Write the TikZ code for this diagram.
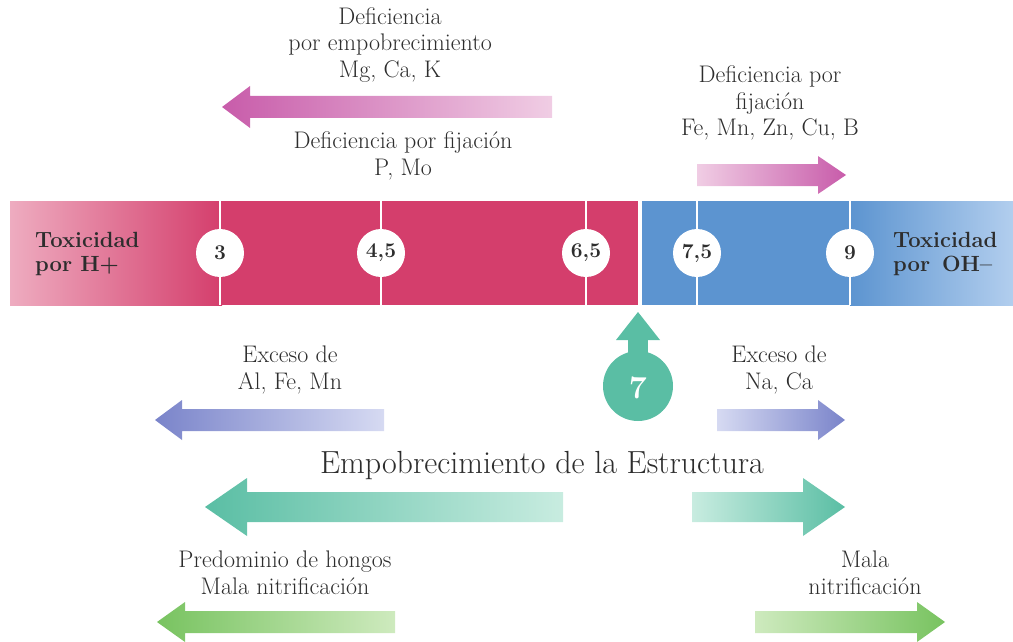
\documentclass[tikz,border=0pt]{standalone}
\usetikzlibrary{calc}
\definecolor{barpink}{RGB}{212,62,108}
\definecolor{barpinkl}{RGB}{238,172,192}
\definecolor{barblue}{RGB}{92,148,208}
\definecolor{barbluel}{RGB}{178,206,238}
\definecolor{mag}{RGB}{200,92,170}
\definecolor{magl}{RGB}{240,205,228}
\definecolor{vio}{RGB}{122,132,202}
\definecolor{viol}{RGB}{214,218,242}
\definecolor{teal7}{RGB}{90,190,164}
\definecolor{teall}{RGB}{200,236,224}
\definecolor{grn}{RGB}{120,195,96}
\definecolor{grnl}{RGB}{206,234,190}
\definecolor{txt}{RGB}{45,45,45}
% #1 tail x, #2 tip x, #3 y, #4 shaft half, #5 head half, #6 head length (signed), #7 shading
\newcommand\gradarrow[7]{%
  \shade[#7] (#1,#3-#4) -- ({#2-(#6)},#3-#4) -- ({#2-(#6)},#3-#5) -- (#2,#3)
    -- ({#2-(#6)},#3+#5) -- ({#2-(#6)},#3+#4) -- (#1,#3+#4) -- cycle;}
\begin{document}
\begin{tikzpicture}[x=1pt,y=-1pt,
  lbl/.style={text=txt,align=center,font=\fontsize{24}{26.5}\selectfont,inner sep=0pt},
  tox/.style={text=txt,align=left,font=\bfseries\fontsize{22}{23.5}\selectfont,inner sep=0pt,anchor=west},
  phnum/.style={circle,fill=white,minimum size=48pt,inner sep=0pt,text=txt,font=\bfseries\fontsize{21}{22}\selectfont},
  divider/.style={white,line width=2pt}]
\useasboundingbox (0,0) rectangle (1013,642);
% bar
\shade[left color=barpinkl,right color=barpink] (10,201) rectangle (222,305);
\fill[barpink] (221,201) rectangle (638,305);
\fill[barblue] (642,201) rectangle (851,305);
\shade[left color=barblue,right color=barbluel] (850,201) rectangle (1013,305);
\foreach \x in {220,381,586,697,850} \draw[divider] (\x,201) -- (\x,305);
\node[phnum] (p3) at (220,253) {3};
\node[phnum] (p45) at (381,253) {4,5};
\node[phnum] (p65) at (586,253) {6,5};
\node[phnum] (p75) at (697,253) {7,5};
\node[phnum] (p9) at (850,253) {9};
\node[tox] (th) at (35,254) {Toxicidad\\por H+};
\node[tox] (toh) at (893,254) {Toxicidad\\por\ \,OH--};
% 7 marker
\fill[teal7] (628,336) rectangle (648,370);
\fill[teal7] (638,312) -- (660,340) -- (616,340) -- cycle;
\fill[teal7] (638,386) circle (35);
\node[text=white,font=\bfseries\fontsize{32}{32}\selectfont] (seven) at (638,388) {7};
% top left
\node[lbl] (t1) at (390,45) {Deficiencia\\por empobrecimiento\\Mg, Ca, K};
\gradarrow{552}{222}{107}{11}{21}{-28}{left color=mag,right color=magl}
\node[lbl] (t2) at (403,156) {Deficiencia por fijación\\P, Mo};
% top right
\node[lbl] (t3) at (770,103) {Deficiencia por\\fijación\\Fe, Mn, Zn, Cu, B};
\gradarrow{697}{846}{175}{11}{19}{28}{left color=magl,right color=mag}
% exceso
\node[lbl] (e1) at (290,370) {Exceso de\\Al, Fe, Mn};
\gradarrow{384}{155}{420}{11}{20}{-27}{left color=vio,right color=viol}
\node[lbl] (e2) at (779,370) {Exceso de\\Na, Ca};
\gradarrow{717}{845}{420}{11}{20}{27}{left color=viol,right color=vio}
% empobrecimiento
\node[text=txt,font=\fontsize{32}{34}\selectfont,inner sep=0pt] (emp) at (542,466) {Empobrecimiento de la Estructura};
\gradarrow{563}{205}{507}{15}{29}{-42}{left color=teal7,right color=teall}
\gradarrow{692}{845}{507}{15}{29}{42}{left color=teall,right color=teal7}
% bottom
\node[lbl] (b1) at (285,573) {Predominio de hongos\\Mala nitrificación};
\gradarrow{395}{157}{622}{11}{20}{-28}{left color=grn,right color=grnl}
\node[lbl] (b2) at (865,573) {Mala\\nitrificación};
\gradarrow{755}{945}{622}{11}{20}{28}{left color=grnl,right color=grn}
\end{tikzpicture}
\end{document}
